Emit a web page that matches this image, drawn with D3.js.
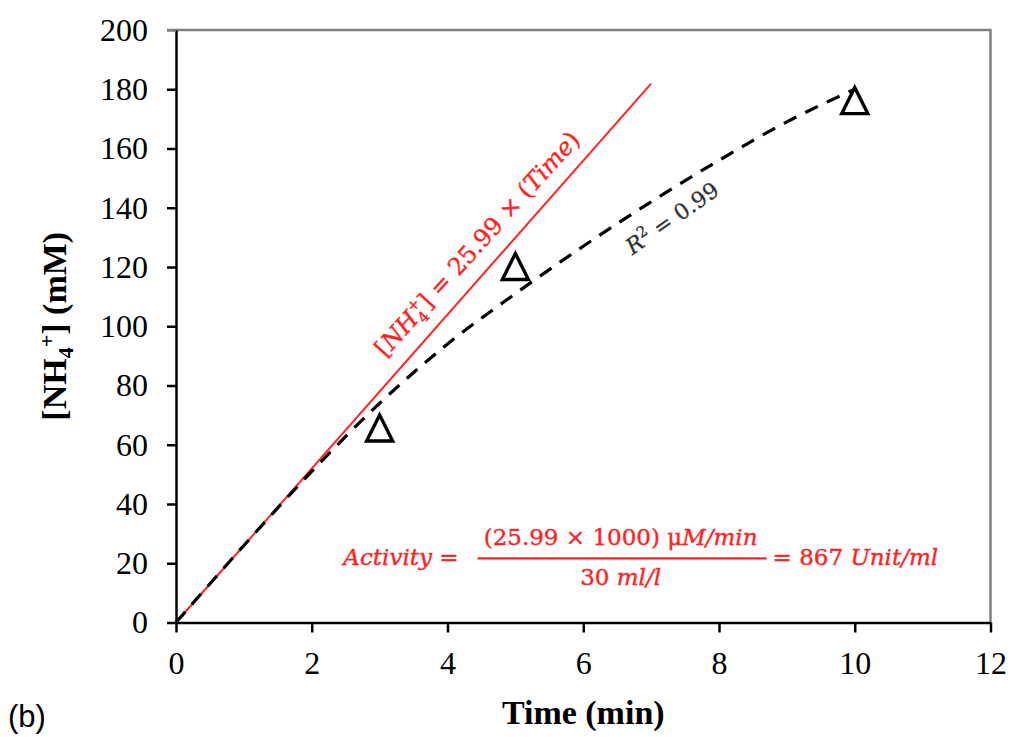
<!DOCTYPE html>
<html>
<head>
<meta charset="UTF-8">
<title>NH4+ vs time</title>
<script src="https://d3js.org/d3.v7.min.js"></script>
<style>
  body { margin: 0; background: #fff; }
  svg { display: block; }
</style>
</head>
<body>
<div id="chart"></div>
<script>
// values
const xTicks = [0, 2, 4, 6, 8, 10, 12];
const yTicks = [0, 20, 40, 60, 80, 100, 120, 140, 160, 180, 200];

const obsTime = [3, 5, 10];
const obsConc = [65.5, 120, 176];

// dashed polynomial fit, read point by point
const fitTime = [0, 1, 2, 3, 4, 5, 6, 7, 8, 9, 10];
const fitConc = [0, 26, 51, 74, 94, 111, 127, 142, 156, 169, 180];

// initial-rate line, slope 25.99
const rateTime = [0, 7];
const rateConc = [0, 181.9];

const red = "#ff2222";
const W = 1014, H = 737;

const svg = d3.select("#chart").append("svg")
    .attr("width", W)
    .attr("height", H);

const x = d3.scaleLinear().domain([0, 12]).range([176, 990.5]);
const y = d3.scaleLinear().domain([0, 200]).range([622.5, 30]);

// top + right frame (grey)
svg.append("path")
    .attr("d", `M${x(0) - 9},${y(200)}H${x(12)}V${y(0)}`)
    .attr("fill", "none")
    .attr("stroke", "#808080")
    .attr("stroke-width", 2.5);

const xAxis = svg.append("g")
    .attr("transform", `translate(0,${y(0)})`)
    .call(d3.axisBottom(x).tickValues(xTicks).tickSize(10).tickPadding(19).tickSizeOuter(0));

const yAxis = svg.append("g")
    .attr("transform", `translate(${x(0)},0)`)
    .call(d3.axisLeft(y).tickValues(yTicks).tickSize(9).tickPadding(19).tickSizeOuter(0));

[xAxis, yAxis].forEach(g => {
    g.select(".domain").attr("stroke", "#000").attr("stroke-width", 2.5);
    g.selectAll(".tick line").attr("stroke", "#000").attr("stroke-width", 2.5);
    g.selectAll(".tick text")
        .attr("fill", "#000")
        .attr("font-family", "'Liberation Serif', 'Times New Roman', serif")
        .attr("font-size", 32);
});
// top tick merges with grey frame
yAxis.selectAll(".tick").filter(d => d === 200).select("line").attr("stroke", "#808080");

// rate line
svg.append("path")
    .datum(d3.zip(rateTime, rateConc))
    .attr("d", d3.line().x(d => x(d[0])).y(d => y(d[1])))
    .attr("fill", "none")
    .attr("stroke", red)
    .attr("stroke-width", 2);

// fitted curve
svg.append("path")
    .datum(d3.zip(fitTime, fitConc))
    .attr("d", d3.line().curve(d3.curveMonotoneX).x(d => x(d[0])).y(d => y(d[1])))
    .attr("fill", "none")
    .attr("stroke", "#000")
    .attr("stroke-width", 3.2)
    .attr("stroke-dasharray", "14,10");

// open triangles
const tri = "M0,-13.5L13,12.5L-13,12.5Z";
svg.selectAll(".obs")
    .data(d3.zip(obsTime, obsConc))
    .join("path")
    .attr("class", "obs")
    .attr("d", tri)
    .attr("transform", d => `translate(${x(d[0])},${y(d[1])})`)
    .attr("fill", "none")
    .attr("stroke", "#000")
    .attr("stroke-width", 3.4)
    .attr("stroke-linejoin", "miter");

const mathFont = "'DejaVu Serif', serif";

// equation along the red line
const eq = svg.append("text")
    .attr("transform", `translate(${x(4.435)},${y(127.8)}) rotate(-48)`)
    .attr("text-anchor", "middle")
    .attr("dy", "0.35em")
    .attr("font-family", mathFont)
    .attr("font-size", 24)
    .attr("fill", red)
    .attr("stroke", red)
    .attr("stroke-width", 0.4);
eq.append("tspan").text("[");
eq.append("tspan").attr("font-style", "italic").text("NH");
eq.append("tspan").attr("font-size", 15).attr("dy", 6).text("4");
eq.append("tspan").attr("font-size", 15).attr("dx", -9).attr("dy", -16).text("+");
eq.append("tspan").attr("dy", 10).text("] = 25.99 × (");
eq.append("tspan").attr("font-style", "italic").text("Time");
eq.append("tspan").text(")");

// R^2 label
const r2 = svg.append("text")
    .attr("transform", `translate(${x(7.31)},${y(136.5)}) rotate(-35)`)
    .attr("text-anchor", "middle")
    .attr("dy", "0.35em")
    .attr("font-family", mathFont)
    .attr("font-size", 22)
    .attr("fill", "#333")
    .attr("stroke", "#333")
    .attr("stroke-width", 0.3);
r2.append("tspan").attr("font-style", "italic").text("R");
r2.append("tspan").attr("font-size", 15).attr("dy", -9).text("2");
r2.append("tspan").attr("dy", 9).text(" = 0.99");

// activity formula
const ax = x(6.55), ay = y(22);
const act = svg.append("g")
    .attr("font-family", mathFont)
    .attr("font-size", 23)
    .attr("fill", red)
    .attr("stroke", red)
    .attr("stroke-width", 0.4);
act.append("text")
    .attr("x", ax - 162).attr("y", ay + 8)
    .attr("text-anchor", "end")
    .html('<tspan font-style="italic">Activity</tspan> =');
act.append("text")
    .attr("x", ax).attr("y", ay - 12)
    .attr("text-anchor", "middle")
    .html('(25.99 × 1000) μ<tspan font-style="italic">M/min</tspan>');
act.append("text")
    .attr("x", ax).attr("y", ay + 28)
    .attr("text-anchor", "middle")
    .html('30 <tspan font-style="italic">ml/l</tspan>');
act.append("line")
    .attr("x1", ax - 143).attr("x2", ax + 146)
    .attr("y1", ay + 1).attr("y2", ay + 1)
    .attr("stroke", red)
    .attr("stroke-width", 2.2);
act.append("text")
    .attr("x", ax + 152).attr("y", ay + 8)
    .attr("text-anchor", "start")
    .html('= 867 <tspan font-style="italic">Unit/ml</tspan>');

// axis titles
const yt = svg.append("text")
    .attr("transform", `translate(66,${(y(0) + y(200)) / 2}) rotate(-90)`)
    .attr("text-anchor", "middle")
    .attr("font-family", "'Liberation Serif', 'Times New Roman', serif")
    .attr("font-weight", "bold")
    .attr("font-size", 34);
yt.append("tspan").text("[NH");
yt.append("tspan").attr("font-size", 22).attr("dy", 7).text("4");
yt.append("tspan").attr("font-size", 22).attr("dy", -19).text("+");
yt.append("tspan").attr("dy", 12).text("] (mM)");

svg.append("text")
    .attr("x", (x(0) + x(12)) / 2)
    .attr("y", 724)
    .attr("text-anchor", "middle")
    .attr("font-family", "'Liberation Serif', 'Times New Roman', serif")
    .attr("font-weight", "bold")
    .attr("font-size", 34)
    .text("Time (min)");

svg.append("text")
    .attr("x", 8)
    .attr("y", 727)
    .attr("font-family", "'Liberation Sans', Arial, sans-serif")
    .attr("font-size", 31)
    .text("(b)");
</script>
</body>
</html>
